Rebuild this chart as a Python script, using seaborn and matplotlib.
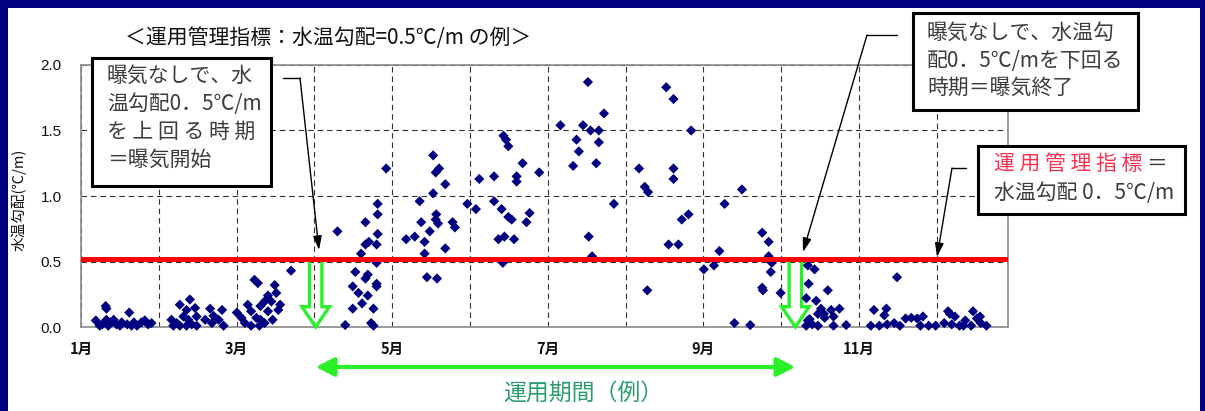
import numpy as np
import matplotlib
matplotlib.use("Agg")
import matplotlib.pyplot as plt
import seaborn as sns
from matplotlib.patches import Rectangle, FancyArrow
from matplotlib.lines import Line2D

# ---------------- data (day of year, water-temperature gradient degC/m) ----------------
jan_day = [5.7, 9.5, 9.8, 8.2, 9.8, 11.4, 12.6, 7.2, 10.5, 13.7, 15.7, 18.6, 17.8, 20.4, 21.6, 23.3, 24.6, 25.9, 27.2, 15.0, 19.5]
jan_val = [0.05, 0.16, 0.14, 0.02, 0.055, 0.035, 0.055, 0.01, 0.01, 0.02, 0.035, 0.11, 0.02, 0.035, 0.01, 0.035, 0.05, 0.02, 0.03, 0.01, 0.01]
feb_day = [34.9, 38.1, 42.0, 40.7, 39.5, 36.9, 35.6, 38.1, 41.4, 44.0, 44.6, 42.7, 40.7, 47.9, 49.8, 51.1, 50.5, 54.4, 53.1, 55.0, 44.6]
feb_val = [0.055, 0.17, 0.21, 0.13, 0.08, 0.03, 0.01, 0.01, 0.055, 0.145, 0.08, 0.02, 0.01, 0.055, 0.14, 0.085, 0.03, 0.13, 0.055, 0.01, 0.01]
mar_day = [60.1, 61.9, 64.3, 65.6, 66.9, 68.2, 63.2, 65.6, 67.6, 69.2, 70.8, 72.1, 74.7, 75.3, 73.4, 76.1, 72.1, 69.2, 68.8, 73.9, 70.8, 81.0, 76.8]
mar_val = [0.11, 0.07, 0.17, 0.12, 0.36, 0.335, 0.03, 0.01, 0.07, 0.16, 0.195, 0.24, 0.32, 0.26, 0.195, 0.13, 0.12, 0.055, 0.01, 0.055, 0.03, 0.43, 0.17]
apr_day = [98.9, 117.7, 114.4, 114.4, 109.7, 114.4, 111.0, 109.7, 114.0, 108.0, 114.0, 105.8, 110.6, 109.7, 104.8, 114.0, 114.0, 107.0, 110.6, 108.4, 104.8, 112.8, 101.9, 111.9, 112.8]
apr_val = [0.73, 1.21, 0.94, 0.86, 0.80, 0.71, 0.65, 0.63, 0.63, 0.56, 0.49, 0.42, 0.40, 0.37, 0.31, 0.33, 0.31, 0.26, 0.24, 0.18, 0.14, 0.14, 0.015, 0.03, 0.01]
may_day = [125.4, 128.7, 132.5, 132.5, 131.2, 130.6, 135.8, 136.8, 138.1, 135.8, 137.0, 136.8, 137.7, 134.5, 140.5, 143.3, 144.2, 140.5, 133.4, 137.3]
may_val = [0.67, 0.69, 0.65, 0.56, 0.80, 0.96, 1.31, 1.18, 1.21, 1.02, 0.86, 0.82, 0.79, 0.73, 1.09, 0.80, 0.76, 0.60, 0.38, 0.37]
jun_day = [149.0, 152.3, 153.6, 159.3, 162.9, 163.9, 164.8, 159.3, 162.2, 164.8, 166.1, 168.0, 168.0, 170.3, 176.7, 173.0, 171.8, 161.0, 163.3, 167.0, 162.7]
jun_val = [0.94, 0.90, 1.13, 1.15, 1.46, 1.43, 1.38, 0.96, 0.90, 0.84, 0.82, 1.15, 1.11, 1.25, 1.18, 0.87, 0.80, 0.67, 0.69, 0.67, 0.49]
jul_day = [184.9, 193.6, 195.5, 201.7, 196.5, 199.7, 191.1, 199.7, 192.0, 198.7, 189.8, 205.5, 195.8, 197.1]
jul_val = [1.54, 1.54, 1.87, 1.63, 1.50, 1.50, 1.43, 1.41, 1.34, 1.25, 1.23, 0.94, 0.69, 0.54]
aug_day = [215.2, 217.4, 218.7, 218.4, 225.7, 228.5, 235.3, 228.5, 228.5, 231.7, 234.3, 226.6, 230.4]
aug_val = [1.21, 1.07, 1.03, 0.28, 1.83, 1.74, 1.50, 1.21, 1.13, 0.82, 0.86, 0.63, 0.63]
sep_day = [240.2, 244.1, 246.2, 248.2, 254.9, 252.0, 258.1, 262.7, 265.2, 265.2, 266.4, 266.0, 262.7, 263.0, 269.8]
sep_val = [0.44, 0.47, 0.58, 0.94, 1.05, 0.03, 0.015, 0.72, 0.65, 0.54, 0.49, 0.42, 0.30, 0.28, 0.26]
oct_day = [280.3, 282.9, 280.6, 279.7, 283.5, 288.0, 285.4, 284.2, 286.8, 289.3, 292.5, 290.2, 280.3, 284.2, 279.7, 290.2, 295.1, 282.0, 286.5, 281.0]
oct_val = [0.47, 0.44, 0.33, 0.22, 0.20, 0.28, 0.14, 0.10, 0.07, 0.13, 0.14, 0.08, 0.05, 0.01, 0.01, 0.01, 0.015, 0.02, 0.10, 0.06]
novdec_day = [314.7, 305.8, 310.6, 309.8, 304.6, 307.9, 310.9, 313.6, 315.8, 318.0, 320.2, 322.5, 324.7, 323.7, 326.9,
              329.6, 332.9, 335.1, 337.0, 338.8, 341.0, 344.0, 343.3, 345.5, 347.0, 349.2, 340.3, 335.8, 334.4, 346.7]
novdec_val = [0.38, 0.13, 0.14, 0.09, 0.01, 0.01, 0.02, 0.03, 0.01, 0.065, 0.07, 0.065, 0.08, 0.01, 0.01,
              0.01, 0.03, 0.10, 0.08, 0.01, 0.05, 0.12, 0.01, 0.065, 0.03, 0.01, 0.01, 0.02, 0.12, 0.08]

index_line_value = 0.52          # red line: 運用管理指標 (0.5 degC/m)
op_start_day = 90.5              # 曝気開始
op_end_day = 275.5               # 曝気終了

x_tick_pos = [0, 30, 60, 90, 120, 150, 180, 210, 240, 270, 300, 330]
x_tick_labels = ['1月', '', '3月', '', '5月', '', '7月', '', '9月', '', '11月', '']
y_tick_pos = [0.0, 0.5, 1.0, 1.5, 2.0]
y_tick_labels = ['0.0', '0.5', '1.0', '1.5', '2.0']

days = np.array(jan_day + feb_day + mar_day + apr_day + may_day + jun_day + jul_day +
                aug_day + sep_day + oct_day + novdec_day)
vals = np.array(jan_val + feb_val + mar_val + apr_val + may_val + jun_val + jul_val +
                aug_val + sep_val + oct_val + novdec_val)

# ---------------- style ----------------
sns.set_theme(style="white")
plt.rcParams['font.family'] = ['Noto Sans CJK JP', 'DejaVu Sans']

W, H = 1205, 411
fig = plt.figure(figsize=(W / 100, H / 100), dpi=100)
NAVY = '#000080'
GREEN = '#2af02a'
TXT = '#3c3c3c'
fig.patch.set_facecolor(NAVY)
fig.add_artist(Rectangle((8 / W, 0), (1200 - 8) / W, (H - 8) / H, transform=fig.transFigure,
                         facecolor='white', edgecolor='none', zorder=-5))


def fx(x):
    return x / W


def fy(y):
    return 1 - y / H


ax = fig.add_axes([fx(81), fy(327), (1008 - 81) / W, (327 - 65) / H])
ax.set_facecolor('white')

sns.scatterplot(x=days, y=vals, marker='D', s=27, color=NAVY, edgecolor='none',
                linewidth=0, ax=ax, zorder=5, clip_on=False)

ax.set_xlim(0, 357.5)
ax.set_ylim(0, 2.0)
ax.set_xticks(x_tick_pos)
ax.set_xticklabels(x_tick_labels, fontsize=10.5, color='#111111', fontweight='bold')
ax.set_yticks(y_tick_pos)
ax.set_yticklabels(y_tick_labels, fontsize=11, color='#111111', family=['Liberation Sans', 'DejaVu Sans'])
ax.tick_params(axis='x', length=0, pad=10)
ax.tick_params(axis='y', length=0, pad=14)
ax.grid(True, color='#333333', linestyle=(0, (5, 3.5)), linewidth=0.8)
ax.set_axisbelow(True)
for sp in ax.spines.values():
    sp.set_color('#8a8a8a')
    sp.set_linewidth(1.2)
    sp.set_visible(True)
ax.set_xlabel('')
ax.set_ylabel('')

# red index line
ax.axhline(index_line_value, color='#ff0000', linewidth=3.6, zorder=6)

# hollow green down arrows
for xd in (op_start_day, op_end_day):
    arr = FancyArrow(xd, index_line_value, 0, -index_line_value, width=4.8, head_width=10.6,
                     head_length=0.155, length_includes_head=True, fill=False,
                     edgecolor=GREEN, linewidth=2.4, zorder=4, clip_on=False)
    ax.add_patch(arr)

# horizontal double arrow (operating period)
ax.annotate('', xy=(op_end_day, fy(367)), xytext=(op_start_day, fy(367)),
            xycoords=('data', 'figure fraction'), textcoords=('data', 'figure fraction'),
            arrowprops=dict(arrowstyle='<|-|>,head_length=0.55,head_width=0.28', color=GREEN,
                            lw=3, mutation_scale=20, shrinkA=0, shrinkB=0), annotation_clip=False)
fig.text(fx(583), fy(393), '運用期間（例）', fontsize=16.5, color='#2a9d6e', ha='center', va='center')

# title and y label
fig.text(fx(328), fy(38), '＜運用管理指標：水温勾配=0.5℃/m の例＞', fontsize=15, color='#111111',
         ha='center', va='center')
fig.text(fx(19), fy(200), '水温勾配(℃/m)', fontsize=10.5, rotation=90, color='#111111',
         ha='center', va='center')


# callout boxes
def box(x0, y0, x1, y1):
    fig.add_artist(Rectangle((fx(x0), fy(y1)), (x1 - x0) / W, (y1 - y0) / H, transform=fig.transFigure,
                             facecolor='white', edgecolor='black', linewidth=2.2, zorder=8))


def line_text(x, y, s, color=TXT, size=15):
    fig.text(fx(x), fy(y), s, fontsize=size, color=color, ha='left', va='center', zorder=9)


box(92, 58, 271, 186)
line_text(107, 76, '曝気なしで、水')
line_text(107, 104, '温勾配0．5℃/m')
line_text(107, 132, 'を 上 回 る 時 期')
line_text(107, 160, '＝曝気開始')

box(913, 13, 1138, 110)
line_text(927, 33, '曝気なしで、水温勾')
line_text(927, 61, '配0．5℃/mを下回る')
line_text(927, 88, '時期＝曝気終了')

box(978, 146, 1185, 214)
line_text(994, 164, '運 用 管 理 指 標', color='#ff3050')
line_text(1146, 164, '＝')
line_text(994, 193, '水温勾配 0．5℃/m')


# leader lines with arrows
def leader(stub, start, tip):
    fig.add_artist(Line2D([fx(stub[0]), fx(stub[1])], [fy(start[1]), fy(start[1])],
                          transform=fig.transFigure, color='black', linewidth=1.0, zorder=7))
    ax.annotate('', xy=(tip[0], H - tip[1]), xytext=(start[0], H - start[1]),
                xycoords='figure pixels', textcoords='figure pixels',
                arrowprops=dict(arrowstyle='-|>,head_length=0.7,head_width=0.22', color='black',
                                lw=1.0, mutation_scale=12, shrinkA=0, shrinkB=0),
                annotation_clip=False, zorder=7)


leader((283, 300), (300, 78), (319, 250))
leader((867, 897), (867, 35), (803, 252))
leader((952, 966), (952, 168), (937, 257))

fig.savefig('out.png', dpi=100, facecolor=fig.get_facecolor())
